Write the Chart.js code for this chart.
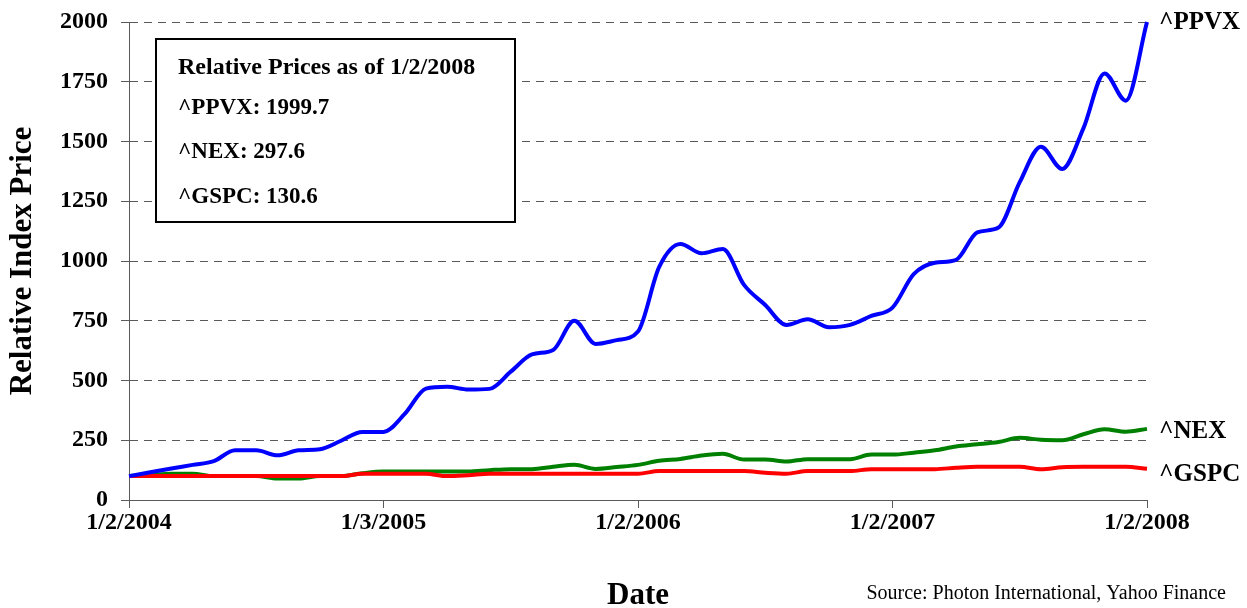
<!DOCTYPE html>
<html>
<head>
<meta charset="utf-8">
<script src="https://cdn.jsdelivr.net/npm/chart.js@4"></script>
<style>
  body { margin: 0; background: #fff; }
  #wrap { width: 1247px; height: 608px; position: relative; }
</style>
</head>
<body>
<div id="wrap"><canvas id="priceChart"></canvas></div>
<script>
// Months since 1/2/2004
const months = [0, 1, 2, 3, 4, 5, 6, 7, 8, 9, 10, 11, 12, 13, 14, 15, 16, 17, 18, 19, 20, 21, 22, 23, 24,
  25, 26, 27, 28, 29, 30, 31, 32, 33, 34, 35, 36, 37, 38, 39, 40, 41, 42, 43, 44, 45, 46, 47, 48];

const xTickValues = [0, 12, 24, 36, 48];
const xTickLabels = ['1/2/2004', '1/3/2005', '1/2/2006', '1/2/2007', '1/2/2008'];
const yTicks = [0, 250, 500, 750, 1000, 1250, 1500, 1750, 2000];

// Relative index prices (1/2/2004 = 100)
const ppvx = [100, 116, 132, 147, 163, 208, 208, 187, 208, 212, 248, 285, 285,
  360, 466, 474, 462, 465, 537, 609, 628, 750, 653, 669, 705,
  975, 1071, 1032, 1050, 900, 816, 732, 756, 723, 733, 770, 805,
  945, 993, 1005, 1120, 1140, 1330, 1478, 1385, 1555, 1785, 1671, 1999.7];

const nex = [100, 105, 110, 110, 100, 100, 100, 90, 90, 100, 100, 112, 119,
  119, 119, 119, 119, 125, 129, 129, 139, 147, 130, 138, 147,
  164, 172, 186, 193, 169, 169, 161, 171, 171, 171, 190, 190,
  198, 208, 224, 233, 243, 260, 252, 250, 275, 296, 286, 297.6];

const gspc = [100, 100, 100, 100, 100, 100, 100, 100, 100, 100, 100, 110, 110,
  110, 110, 100, 104, 110, 110, 110, 110, 110, 110, 110, 110,
  121, 121, 121, 121, 121, 114, 110, 121, 121, 121, 129, 129,
  129, 129, 135, 139, 139, 139, 129, 137, 139, 139, 139, 130.6];

const seriesNames = ['^PPVX', '^NEX', '^GSPC'];
const boxTitle = 'Relative Prices as of 1/2/2008';
const sourceText = 'Source: Photon International, Yahoo Finance';

const FONT = '"Liberation Serif", "Times New Roman", serif';
const GRID = '#5a5a5a';

function toPoints(values) {
  return values.map((v, i) => ({ x: months[i], y: v }));
}

// Box, end labels and source line
const overlayPlugin = {
  id: 'overlay',
  afterDatasetsDraw(chart) {
    const { ctx, chartArea, scales } = chart;
    const x = scales.x;
    const y = scales.y;
    ctx.save();

    // info box
    const bx = chartArea.left + 27;
    const by = chartArea.top + 17;
    ctx.fillStyle = '#fff';
    ctx.fillRect(bx, by, 359, 183);
    ctx.lineWidth = 2;
    ctx.strokeStyle = '#000';
    ctx.strokeRect(bx, by, 359, 183);

    ctx.fillStyle = '#000';
    ctx.textAlign = 'left';
    ctx.textBaseline = 'middle';
    ctx.font = 'bold 24px ' + FONT;
    ctx.fillText(boxTitle, bx + 22, by + 29);
    ctx.font = 'bold 23px ' + FONT;
    const lasts = [ppvx, nex, gspc].map(s => s[s.length - 1]);
    seriesNames.forEach((name, i) => {
      ctx.fillText(`${name}: ${lasts[i]}`, bx + 22, by + 69 + i * 44.5);
    });

    // labels at line ends
    ctx.font = 'bold 25px ' + FONT;
    const offsets = [0, 3, 6];
    seriesNames.forEach((name, i) => {
      ctx.fillText(name, x.right + 12, y.getPixelForValue(lasts[i]) + offsets[i]);
    });

    // source
    ctx.font = '20px ' + FONT;
    ctx.textAlign = 'right';
    ctx.fillText(sourceText, 1226, 594);
    ctx.restore();
  }
};

function lineDataset(label, values, color, order) {
  return {
    label,
    data: toPoints(values),
    borderColor: color,
    backgroundColor: color,
    borderWidth: 4,
    pointRadius: 0,
    cubicInterpolationMode: 'monotone',
    fill: false,
    clip: 6,
    order
  };
}

const ctx = document.getElementById('priceChart').getContext('2d');
const priceChart = new Chart(ctx, {
  type: 'line',
  data: {
    datasets: [
      lineDataset('^PPVX', ppvx, '#0000ff', 0),
      lineDataset('^GSPC', gspc, '#ff0000', 1),
      lineDataset('^NEX', nex, '#008000', 2)
    ]
  },
  options: {
    responsive: true,
    maintainAspectRatio: false,
    animation: false,
    layout: { padding: { left: 0, right: 100, top: 22, bottom: 0 } },
    plugins: {
      legend: { display: false },
      tooltip: { enabled: false }
    },
    scales: {
      x: {
        type: 'linear',
        min: 0,
        max: 48,
        afterFit: (scale) => {
          scale.height = 108;
          scale.paddingLeft = 0;
          scale.paddingRight = 0;
        },
        afterBuildTicks: (scale) => { scale.ticks = xTickValues.map(v => ({ value: v })); },
        ticks: {
          color: '#000',
          padding: 3,
          maxRotation: 0,
          autoSkip: false,
          font: { family: FONT, size: 24, weight: 'bold', lineHeight: 1 },
          callback: (v) => xTickLabels[xTickValues.indexOf(v)]
        },
        grid: { drawOnChartArea: false, drawTicks: true, tickLength: 8, color: GRID, tickColor: GRID },
        border: { display: true, color: GRID, width: 1 },
        title: {
          display: true,
          text: 'Date',
          color: '#000',
          padding: { top: 0, bottom: -3 },
          font: { family: FONT, size: 31, weight: 'bold', lineHeight: 1 }
        }
      },
      y: {
        min: 0,
        max: 2000,
        afterFit: (scale) => {
          scale.width = 129;
          scale.paddingTop = 0;
          scale.paddingBottom = 0;
        },
        afterBuildTicks: (scale) => { scale.ticks = yTicks.map(v => ({ value: v })); },
        ticks: {
          color: '#000',
          padding: 13,
          font: { family: FONT, size: 24, weight: 'bold' },
          callback: (v) => String(v)
        },
        grid: { color: GRID, lineWidth: 1, tickLength: 8, tickColor: GRID, tickBorderDash: [] },
        border: { display: true, color: GRID, width: 1, dash: [8, 6] },
        title: {
          display: true,
          text: 'Relative Index Price',
          color: '#000',
          padding: { top: 7, bottom: 0 },
          font: { family: FONT, size: 31, weight: 'bold', lineHeight: 1 }
        }
      }
    }
  },
  plugins: [overlayPlugin]
});
</script>
</body>
</html>
